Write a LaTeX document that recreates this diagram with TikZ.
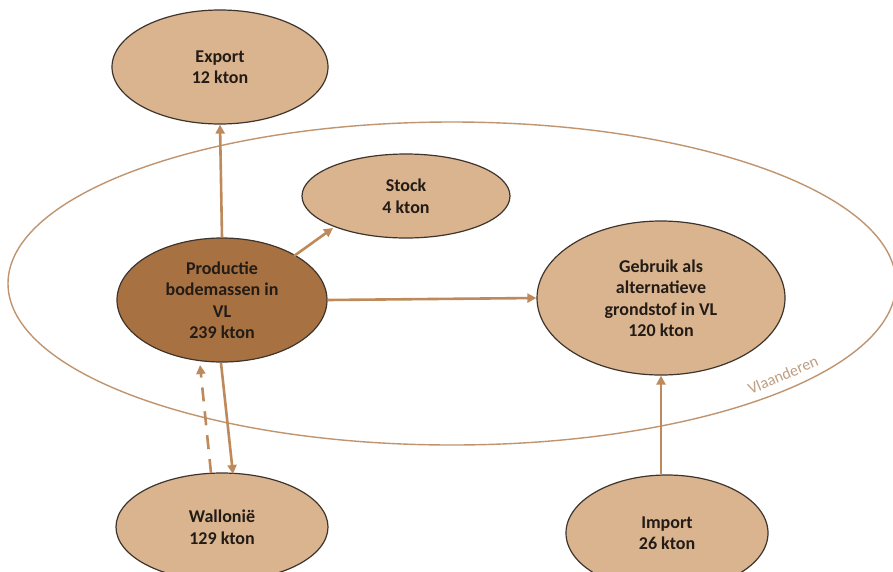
\documentclass[tikz,border=0pt]{standalone}
\usepackage{fontspec}
\setmainfont{Carlito}
\usetikzlibrary{shapes.geometric,arrows.meta}
\definecolor{lightfill}{RGB}{218,180,143}
\definecolor{darkfill}{RGB}{168,113,66}
\definecolor{edgecol}{RGB}{62,52,44}
\definecolor{arrowcol}{RGB}{190,138,92}
\definecolor{ringcol}{RGB}{192,148,110}
\definecolor{labcol}{RGB}{190,158,128}
\definecolor{txtcol}{RGB}{35,28,22}
\begin{document}
\begin{tikzpicture}[x=1pt,y=-1pt,
  blob/.style={ellipse,draw=edgecol,line width=1.2pt,fill=lightfill,inner sep=0pt,
    align=center,text=txtcol,font=\fontsize{18}{21.5}\selectfont\bfseries},
  flow/.style={draw=arrowcol,line width=2.6pt,-{Triangle[length=9pt,width=9pt]}}]
\useasboundingbox (0,0) rectangle (893,571);
\fill[white] (0,0) rectangle (893,571);
% Vlaanderen ring
\draw[ringcol,line width=1.4pt] (452,283.5) ellipse [x radius=444pt,y radius=161.5pt];
\node[rotate=23,text=labcol,font=\fontsize{16}{18}\selectfont] (vl) at (783,375) {Vlaanderen};
% nodes
\node[blob,minimum width=216pt,minimum height=114pt] (export) at (220,67) {Export\\12 kton};
\node[blob,minimum width=208pt,minimum height=84pt] (stock) at (406,196) {Stock\\4 kton};
\node[blob,fill=darkfill,minimum width=210pt,minimum height=124pt] (prod) at (222,300) {Productie\\bodemassen in\\VL\\239 kton};
\node[blob,minimum width=248pt,minimum height=154pt] (gebruik) at (661,298) {Gebruik als\\alternatieve\\grondstof in VL\\120 kton};
\node[blob,minimum width=212pt,minimum height=108pt] (wal) at (222,527) {Walloni\"e\\129 kton};
\node[blob,minimum width=202pt,minimum height=116pt] (import) at (667,533) {Import\\26 kton};
% arrows
\draw[flow] (prod.north) -- (export.south);
\coordinate (s1) at (294,256);
\coordinate (s2) at (333,228);
\draw[flow] (s1) -- (s2);
\draw[flow] (prod.east) -- (gebruik.west);
\draw[flow] (import.north -| gebruik.south) -- (gebruik.south);
\coordinate (w1) at (221,363);
\coordinate (w2) at (233,474);
\draw[flow] (w1) -- (w2);
\coordinate (d1) at (211,473);
\coordinate (d2) at (200,365);
\draw[flow,dash pattern=on 14pt off 10pt] (d1) -- (d2);
\end{tikzpicture}
\end{document}
